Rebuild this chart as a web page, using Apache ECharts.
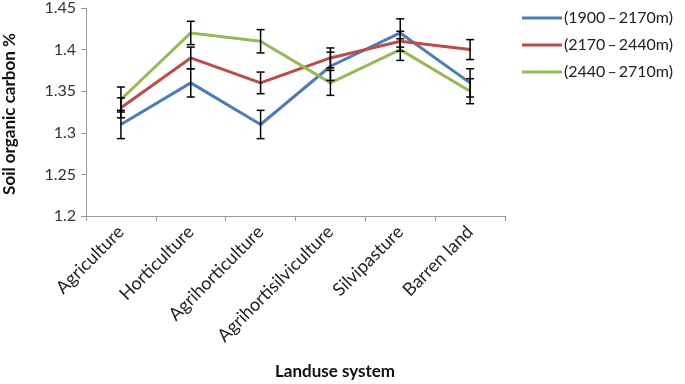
<!DOCTYPE html>
<html>
<head>
<meta charset="utf-8">
<script src="https://cdn.jsdelivr.net/npm/echarts@6/dist/echarts.min.js"></script>
<style>
  html, body { margin: 0; padding: 0; background: #fff; }
  #chart { width: 685px; height: 384px; }
</style>
</head>
<body>
<div id="chart"></div>
<script>
const categories = ['Agriculture', 'Horticulture', 'Agrihorticulture', 'Agrihortisilviculture', 'Silvipasture', 'Barren land'];
const seriesNames = ['(1900\u2009\u2013\u20092170m)', '(2170\u2009\u2013\u20092440m)', '(2440\u2009\u2013\u20092710m)'];
const lowAlt = [1.31, 1.36, 1.31, 1.38, 1.42, 1.36];
const midAlt = [1.33, 1.39, 1.36, 1.39, 1.41, 1.40];
const highAlt = [1.34, 1.42, 1.41, 1.36, 1.40, 1.35];
const lowAltErr = [0.017, 0.017, 0.017, 0.017, 0.017, 0.017];
const midAltErr = [0.012, 0.013, 0.013, 0.012, 0.012, 0.012];
const highAltErr = [0.015, 0.014, 0.014, 0.015, 0.013, 0.015];
const yTicks = { min: 1.2, max: 1.45, step: 0.05 };

const colors = ['#4A7EBB', '#BE4B48', '#98B954'];
const font = 'Lato, "Open Sans", sans-serif';

const chart = echarts.init(document.getElementById('chart'));

// error bars: vertical line with caps
function errorData(vals, errs) {
  return vals.map((v, i) => [i, v - errs[i], v + errs[i]]);
}
function renderErr(params, api) {
  const lo = api.coord([api.value(0), api.value(1)]);
  const hi = api.coord([api.value(0), api.value(2)]);
  const w = 4;
  const st = { stroke: '#000', lineWidth: 1.5 };
  return {
    type: 'group',
    children: [
      { type: 'line', shape: { x1: lo[0], y1: lo[1], x2: hi[0], y2: hi[1] }, style: st },
      { type: 'line', shape: { x1: lo[0] - w, y1: lo[1], x2: lo[0] + w, y2: lo[1] }, style: st },
      { type: 'line', shape: { x1: hi[0] - w, y1: hi[1], x2: hi[0] + w, y2: hi[1] }, style: st }
    ]
  };
}

const values = [lowAlt, midAlt, highAlt];
const errs = [lowAltErr, midAltErr, highAltErr];

const series = [];
values.forEach((v, k) => {
  series.push({
    name: seriesNames[k],
    type: 'line',
    data: v,
    symbol: 'none',
    lineStyle: { color: colors[k], width: 3 },
    itemStyle: { color: colors[k] },
    z: 2
  });
});
values.forEach((v, k) => {
  series.push({
    type: 'custom',
    renderItem: renderErr,
    data: errorData(v, errs[k]),
    encode: { x: 0, y: [1, 2] },
    z: 3,
    silent: true
  });
});

chart.setOption({
  backgroundColor: '#fff',
  animation: false,
  grid: { left: 86, right: 180, top: 7, bottom: 168 },
  legend: {
    orient: 'vertical',
    left: 517,
    top: 5,
    itemWidth: 40,
    itemHeight: 3,
    itemGap: 11,
    icon: 'rect',
    textStyle: { fontFamily: font, fontSize: 16, color: '#222', padding: [0, 0, 0, -3] },
    data: seriesNames
  },
  xAxis: {
    type: 'category',
    data: categories,
    boundaryGap: true,
    axisLine: { lineStyle: { color: '#999', width: 1 } },
    axisTick: { show: true, length: 5, lineStyle: { color: '#999' } },
    axisLabel: { rotate: 45, fontFamily: font, fontSize: 18, color: '#222', margin: 13, interval: 0 }
  },
  yAxis: {
    type: 'value',
    min: yTicks.min,
    max: yTicks.max,
    interval: yTicks.step,
    axisLine: { show: true, lineStyle: { color: '#999', width: 1 } },
    axisTick: { show: true, length: 5, lineStyle: { color: '#999' } },
    splitLine: { show: false },
    axisLabel: {
      fontFamily: font, fontSize: 16, color: '#333', margin: 10,
      formatter: v => String(parseFloat(v.toFixed(2)))
    }
  },
  graphic: [
    {
      type: 'text', x: 10, y: 114, rotation: Math.PI / 2,
      style: { text: 'Soil organic carbon %', fontFamily: font, fontSize: 17, fontWeight: 'bold',
               fill: '#111', align: 'center', verticalAlign: 'middle' }
    },
    {
      type: 'text', x: 335, y: 372,
      style: { text: 'Landuse system', fontFamily: font, fontSize: 17, fontWeight: 'bold',
               fill: '#111', align: 'center', verticalAlign: 'middle' }
    }
  ],
  series: series
});
</script>
</body>
</html>
